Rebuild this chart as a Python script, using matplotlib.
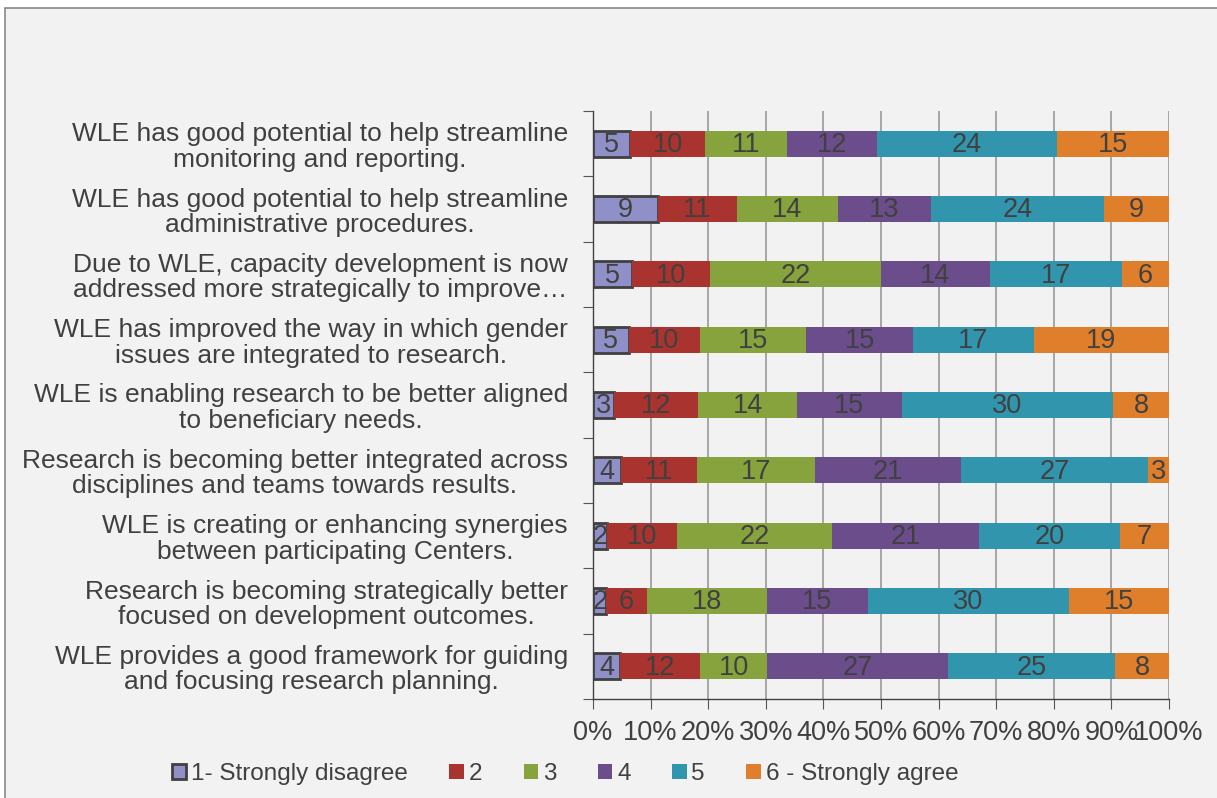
import numpy as np
import matplotlib.pyplot as plt
from matplotlib.patches import Rectangle, Patch

statements = [
    "WLE has good potential to help streamline\nmonitoring and reporting.",
    "WLE has good potential to help streamline\nadministrative procedures.",
    "Due to WLE, capacity development is now\naddressed more strategically to improve\u2026",
    "WLE has improved the way in which gender\nissues are integrated to research.",
    "WLE is enabling research to be better aligned\nto beneficiary needs.",
    "Research is becoming better integrated across\ndisciplines and teams towards results.",
    "WLE is creating or enhancing synergies\nbetween participating Centers.",
    "Research is becoming strategically better\nfocused on development outcomes.",
    "WLE provides a good framework for guiding\nand focusing research planning.",
]
levels = ["1- Strongly disagree", "2", "3", "4", "5", "6 - Strongly agree"]

s1 = [5, 9, 5, 5, 3, 4, 2, 2, 4]
s2 = [10, 11, 10, 10, 12, 11, 10, 6, 12]
s3 = [11, 14, 22, 15, 14, 17, 22, 18, 10]
s4 = [12, 13, 14, 15, 15, 21, 21, 15, 27]
s5 = [24, 24, 17, 17, 30, 27, 20, 30, 25]
s6 = [15, 9, 6, 19, 8, 3, 7, 15, 8]

colors = ["#9090c8", "#a9332f", "#86a33d", "#6b4d8b", "#3195ae", "#e07f2b"]
text_c = "#404040"
bg = "#f2f2f2"
num_font = ["Liberation Sans Narrow", "Liberation Sans", "DejaVu Sans"]
lab_font = ["Liberation Sans", "DejaVu Sans"]

counts = np.array([s1, s2, s3, s4, s5, s6], dtype=float)
shares = counts / counts.sum(axis=0)

fig = plt.figure(figsize=(12.17, 7.98), dpi=100, facecolor="white")
frame = Rectangle((5 / 1217, -0.01), 1.0, 1.01 - 8 / 798, transform=fig.transFigure,
                  facecolor=bg, edgecolor="#888888", lw=1.2, zorder=-10)
fig.add_artist(frame)
ax = fig.add_axes([593 / 1217, 1 - 699 / 798, 576 / 1217, 588 / 798])
ax.set_facecolor(bg)

y = np.arange(len(statements))
left = np.zeros(len(statements))
for i in range(len(levels)):
    edge = "#404040" if i == 0 else "none"
    lw = 2.0 if i == 0 else 0
    ax.barh(y, shares[i], left=left, height=0.4, color=colors[i],
            edgecolor=edge, linewidth=lw, zorder=3)
    for j in range(len(statements)):
        ax.text(left[j] + shares[i][j] / 2, y[j] + 0.02, f"{int(counts[i][j])}",
                ha="center", va="center", fontsize=19.5, color=text_c,
                family=num_font, zorder=4)
    left += shares[i]

ax.set_xlim(0, 1)
ax.set_ylim(len(statements) - 0.5, -0.5)
ax.set_xticks(np.linspace(0, 1, 11))
ax.set_xticklabels([f"{k}%" for k in range(0, 101, 10)], fontsize=19.5,
                   color=text_c, family=num_font)
ax.set_yticks(np.arange(len(statements) + 1) - 0.5, minor=False)
ax.set_yticklabels([])
ax.set_yticks(y, minor=True)
ax.set_yticklabels(statements, minor=True, fontsize=19, color=text_c,
                   family=lab_font, linespacing=1.08)
for lab in ax.get_yticklabels(minor=True):
    lab.set_multialignment("center")
ax.tick_params(axis="y", which="minor", length=0, pad=18)
ax.tick_params(axis="y", which="major", length=7, color="#555555")
ax.tick_params(axis="x", length=7, color="#555555", pad=8)
ax.grid(axis="x", color="#999999", lw=1.2, zorder=1)
for side in ["top", "right"]:
    ax.spines[side].set_visible(False)
for side in ["left", "bottom"]:
    ax.spines[side].set_color("#404040")
    ax.spines[side].set_linewidth(1.0)

handles = [Patch(facecolor=colors[i], edgecolor="#404040" if i == 0 else colors[i],
                 linewidth=2 if i == 0 else 0) for i in range(len(levels))]
leg = fig.legend(handles, levels, loc="center", bbox_to_anchor=(565 / 1217, 1 - 774 / 798),
                 ncol=6, frameon=False, handlelength=0.6, handleheight=0.6,
                 handletextpad=0.2, columnspacing=1.7,
                 prop={"family": lab_font, "size": 17.5})
for t in leg.get_texts():
    t.set_color(text_c)

fig.savefig("out.png", dpi=100, facecolor="white")
